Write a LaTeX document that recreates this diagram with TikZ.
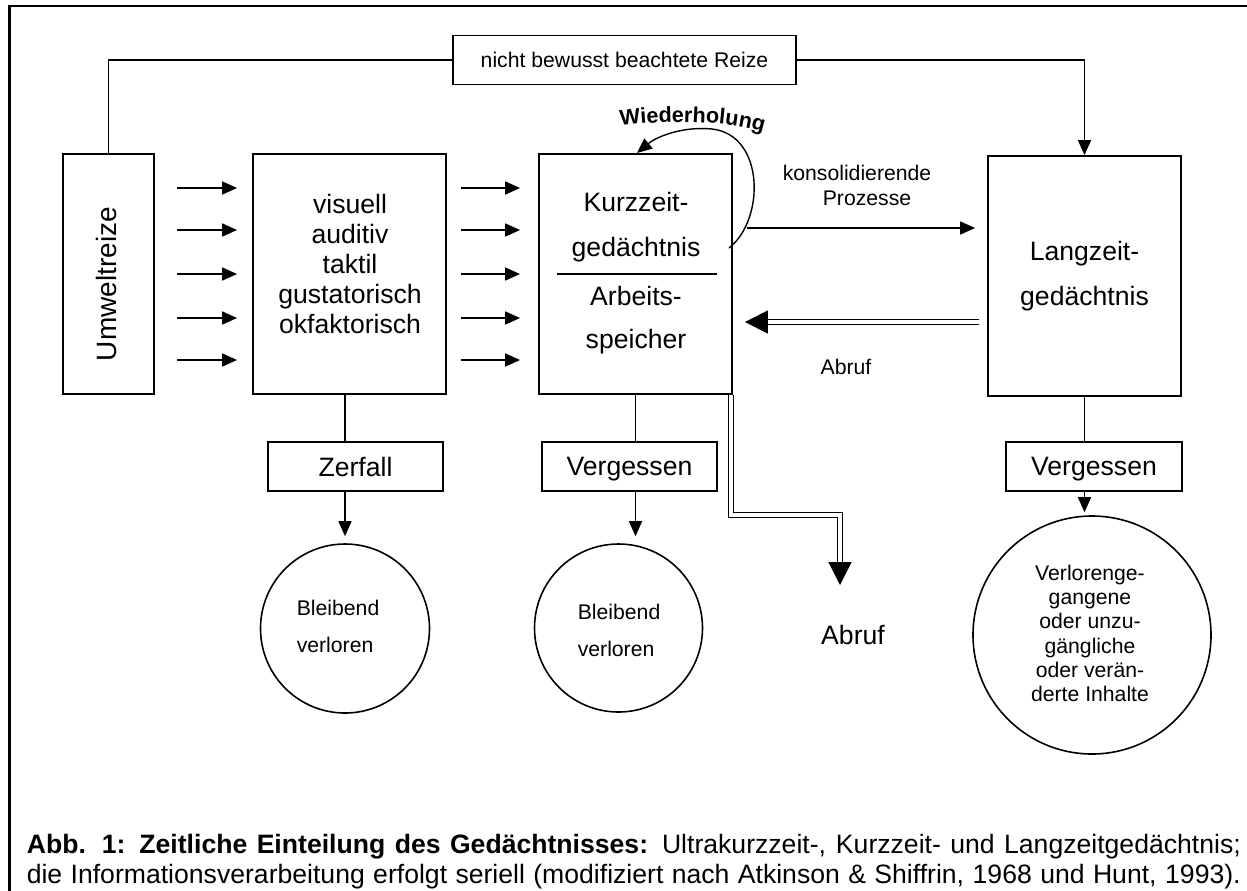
\documentclass[tikz,border=0pt]{standalone}
\usepackage{fontspec}
\setmainfont{Liberation Sans}
\usetikzlibrary{arrows.meta,decorations.text}
\tikzset{>={Triangle[length=7.5pt,width=6.5pt]}}
\tikzset{
    blk/.style={draw,line width=0.9pt,inner sep=0pt},
    lbl/.style={inner sep=0pt,align=center},
    dbl/.style={double,double distance=1.8pt,line width=0.6pt},
    bigtip/.style={-{Triangle[length=11.5pt,width=11.5pt]}}
}
\newcommand{\fbig}{\fontsize{13.3}{15}\selectfont}
\newcommand{\fsmall}{\fontsize{10.6}{12.6}\selectfont}

\begin{document}
\begin{tikzpicture}[x=0.5pt,y=-0.5pt,line width=0.8pt]
    \useasboundingbox (0,0) rectangle (1247,890);
    \draw[line width=1.3pt] (1252,6) -- (9.5,6) -- (9.5,895);

    \node[blk,minimum width=45.5pt,minimum height=120pt] (umwelt) at (108.5,274) {};
    \node[lbl,rotate=90,font=\fontsize{14}{15}\selectfont] (umwelttext) at (106.5,284) {Umweltreize};

    \node[blk,minimum width=96.5pt,minimum height=120pt] (sens) at (349.5,274) {};
    \node[lbl,font=\fbig] (senstext) at (350,263.5) {visuell\\auditiv\\taktil\\gustatorisch\\okfaktorisch};

    \node[blk,minimum width=96.5pt,minimum height=120pt] (kzg) at (635.5,274) {};
    \node[lbl,font={\fontsize{13.3}{22.5}\selectfont}] (kzgtop) at (636,227) {Kurzzeit-\\gedächtnis};
    \draw (557,274) -- (717,274);
    \node[lbl,font={\fontsize{13.3}{21.5}\selectfont}] (kzgbot) at (636,320) {Arbeits-\\speicher};

    \node[blk,minimum width=96.5pt,minimum height=120pt,align=center,font={\fontsize{13.3}{22.5}\selectfont}] (lzg) at (1084.5,276) {Langzeit-\\gedächtnis};

    \node[blk,minimum width=171.5pt,minimum height=24.5pt,font=\fsmall] (reize) at (624.5,60) {nicht bewusst beachtete Reize};
    \draw (umwelt.north) |- (reize.west);
    \draw[->] (reize.east) -| (lzg.north);

    \foreach \y in {188,230,274,318,360} {
        \draw[->,shorten <=11pt,shorten >=7.5pt] (umwelt.east |- 0,\y) -- (sens.west |- 0,\y);
        \draw[->,shorten <=7pt,shorten >=9pt] (sens.east |- 0,\y) -- (kzg.west |- 0,\y);
    }

    % Wiederholung
    \coordinate (loopStart) at (729,248);
    \coordinate (loopEnd) at (637,153);
    \draw[->,line width=0.7pt] (loopStart) .. controls (765,220) and (765,135) .. (712,129)
        .. controls (680,126) and (655,138) .. (loopEnd);
    \path[decorate,decoration={text along path,text align=center,
        text={|\bfseries\fontsize{10.8}{12}\selectfont|Wiederholung}}]
        (620,126) .. controls (660,120) and (725,120) .. (764,132);

    \coordinate (konsStart) at (747,228);
    \draw[->,shorten >=6pt] (konsStart) -- (lzg.west |- konsStart);
    \node[lbl,font=\fsmall] (konstext) at (857,185.6) {konsolidierende\\\hspace*{10pt}Prozesse};

    \draw[dbl,bigtip,shorten <=4pt,shorten >=6pt] (lzg.west |- 0,322) -- (kzg.east |- 0,322);
    \node[lbl,font=\fsmall] (abruf1) at (846,367) {Abruf};

    \coordinate (abrufKnick) at (840,515);
    \coordinate (abrufEnd) at (840,585);
    \draw[dbl,bigtip] ([xshift=-1pt]kzg.south east) |- (abrufKnick) -- (abrufEnd);
    \node[lbl,font=\fbig] (abruf2) at (853,635) {Abruf};

    \node[blk,minimum width=87.5pt,minimum height=24.5pt,text depth=0pt,font=\fbig] (zerfall) at (355.5,466.5) {Zerfall};
    \node[blk,minimum width=87.5pt,minimum height=24.5pt,text depth=0pt,font=\fbig] (verg1) at (629.5,466.5) {Vergessen};
    \node[blk,minimum width=88pt,minimum height=24.5pt,text depth=0pt,font=\fbig] (verg2) at (1094,466.5) {Vergessen};

    \node[draw,circle,minimum size=84.5pt,inner sep=0pt] (circ1) at (345,628.5) {};
    \node[draw,circle,minimum size=84pt,inner sep=0pt] (circ2) at (618.5,628) {};
    \node[draw,circle,minimum size=119pt,inner sep=0pt] (circ3) at (1092,635) {};

    \draw (circ1.north |- sens.south) -- (circ1.north |- zerfall.north);
    \draw[->,shorten >=3.5pt] (circ1.north |- zerfall.south) -- (circ1.north);
    \draw (kzg.south) -- (kzg.south |- verg1.north);
    \draw[->,shorten >=3.5pt] (kzg.south |- verg1.south) -- (kzg.south |- circ2.north);
    \draw (lzg.south) -- (lzg.south |- verg2.north);
    \draw[->,shorten >=1.5pt] (lzg.south |- verg2.south) -- (lzg.south |- circ3.north);

    \node[lbl,align=left,anchor=west,font={\fontsize{10.6}{18.5}\selectfont}] (circ1text) at (296,626.6) {Bleibend\\verloren};
    \node[lbl,align=left,anchor=west,font={\fontsize{10.6}{18.5}\selectfont}] (circ2text) at (577,630.2) {Bleibend\\verloren};
    \node[lbl,font={\fontsize{10.6}{12.1}\selectfont}] (circ3text) at (1090,633.5) {Verlorenge-\\gangene\\oder unzu-\\gängliche\\oder verän-\\derte Inhalte};

    \node[lbl,anchor=base west,font={\fontsize{13.3}{15}\selectfont}] (cap1) at (26,853)
        {\makebox[607pt][s]{\textbf{Abb. 1: Zeitliche Einteilung des Gedächtnisses:} Ultrakurzzeit-, Kurzzeit- und Langzeitgedächtnis;}};
    \node[lbl,anchor=base west,font={\fontsize{13.3}{15}\selectfont}] (cap2) at (26,883)
        {\makebox[607pt][s]{die Informationsverarbeitung erfolgt seriell (modifiziert nach Atkinson \& Shiffrin, 1968 und Hunt, 1993).}};
\end{tikzpicture}
\end{document}
